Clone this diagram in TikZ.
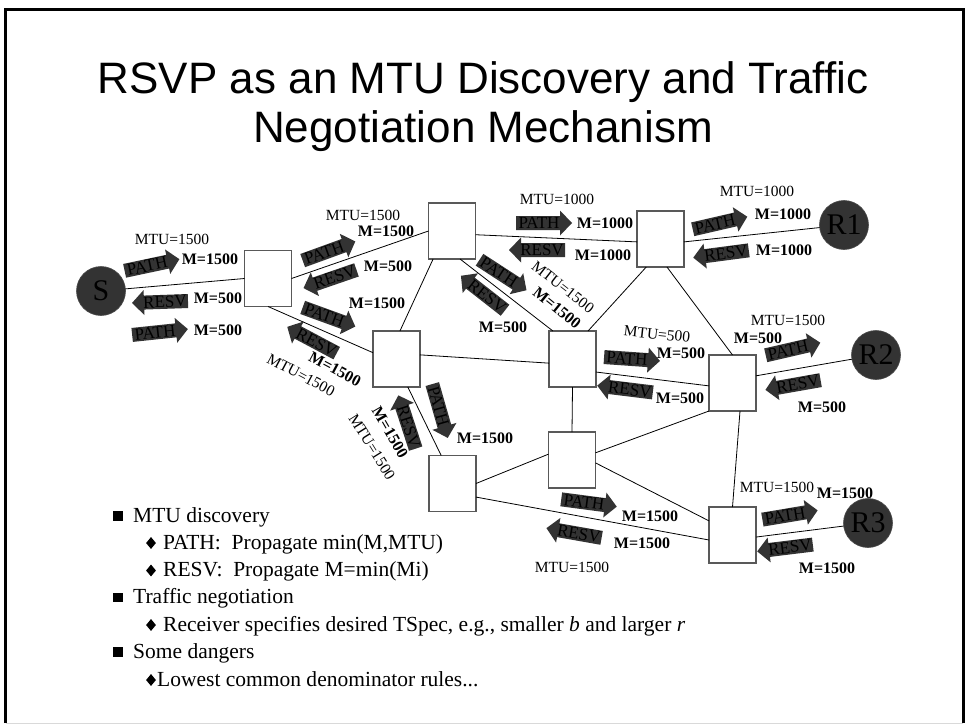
\documentclass[tikz,border=0pt]{standalone}
\usepackage{fontspec}
\usetikzlibrary{shapes.geometric}
\setmainfont{Liberation Serif}
\newfontfamily\titlefont{Liberation Sans}

% block arrow pointing along the given angle, label reading the same way
\newcommand\patharrow[4]{%
  \begin{scope}[shift={#2},rotate=#3]
    \fill[arrowfill] (-28,7) -- (16,7) -- (16,12.5) -- (28,0) -- (16,-12.5) -- (16,-7) -- (-28,-7) -- cycle;
    \node[arrowtext,transform shape] (#1) at (-5,0) {PATH};
  \end{scope}}
% block arrow pointing against the given angle, label reading along it
\newcommand\resvarrow[4]{%
  \begin{scope}[shift={#2},rotate=#3]
    \fill[arrowfill] (28,7) -- (-16,7) -- (-16,12.5) -- (-28,0) -- (-16,-12.5) -- (-16,-7) -- (28,-7) -- cycle;
    \node[arrowtext,transform shape] (#1) at (5,0) {RESV};
  \end{scope}}

\begin{document}
\begin{tikzpicture}[x=1pt,y=-1pt,
  router/.style={draw=black!65,line width=1.3pt,fill=white,minimum width=47pt,minimum height=56pt,inner sep=0pt,outer sep=0pt},
  host/.style={circle,fill=black!80,draw=black!70,line width=0.6pt,minimum size=49pt,inner sep=0pt,outer sep=0pt,font=\fontsize{30}{30}\selectfont},
  link/.style={line width=0.8pt},
  arrowfill/.style={fill=black!80},
  arrowtext/.style={font=\fontsize{17}{17}\selectfont,inner sep=0pt},
  mlab/.style={font=\fontsize{16}{16}\selectfont\bfseries,inner sep=0pt},
  mtu/.style={font=\fontsize{15.5}{16}\selectfont,inner sep=0pt},
  titletext/.style={font=\titlefont\fontsize{44}{48}\selectfont,anchor=base,inner sep=0pt},
  bullettext/.style={font=\fontsize{21.5}{26}\selectfont,anchor=base west,inner sep=0pt},
  sqbullet/.style={fill=black,minimum size=9.5pt,inner sep=0pt},
  dmbullet/.style={fill=black,diamond,minimum width=10pt,minimum height=12pt,inner sep=0pt}
]
\useasboundingbox (0,0) rectangle (965,725);
\fill[white] (0,0) rectangle (965,725);

% slide frame
\draw[line width=3pt] (5.5,723) -- (5.5,9.7) -- (963,9.7) -- (963,723);
\draw[black!15,line width=1pt] (5.5,723.5) -- (963,723.5);

% title
\node[titletext] (title1) at (483,93) {RSVP as an MTU Discovery and Traffic};
\node[titletext] (title2) at (483,142) {Negotiation Mechanism};

% routers
\node[router] (A) at (268,278.5) {};
\node[router] (B) at (452,231) {};
\node[router] (C) at (660.5,239) {};
\node[router] (D) at (396.5,359) {};
\node[router] (E) at (572.5,359) {};
\node[router] (F) at (732.5,383) {};
\node[router] (G) at (572,460) {};
\node[router] (H) at (452.5,483.5) {};
\node[router] (J) at (732.5,535) {};

% sender and receivers
\node[host] (S) at (101,291) {S};
\node[host] (R1) at (844,225) {R1};
\node[host] (R2) at (876,355) {R2};
\node[host] (R3) at (868,523) {R3};

% links
\draw[link] (S) -- (A.west);
\draw[link] (A.east) -- (B.west);
\draw[link] (A.south) -- (D.165);
\draw[link] (B.-9) -- (C.187);
\draw[link] (B.-124) -- (D.83);
\draw[link] (B.-74) -- (E.125);
\draw[link] (C.-117) -- (E.61);
\draw[link] (C.-77) -- (F.north);
\draw[link] (C.-7) -- (R1);
\draw[link] (D.10) -- (E.190);
\draw[link] (D.-68) -- (H.112);
\draw[link] (E.-29) -- (F.187);
\draw[link] (E.south) -- (G.north);
\draw[link] (G.17) -- (F.south west);
\draw[link] (G.-7) -- (J.149);
\draw[link] (H.east) -- (G.166);
\draw[link] (H.-30) -- (J.192);
\draw[link] (F.-75) -- (J.north);
\draw[link] (F.17) -- (R2);
\draw[link] (J.-5) -- (R3);

% PATH messages
\patharrow{p1}{(152,265)}{12}{}
\patharrow{p2}{(160,332)}{6}{}
\patharrow{p3}{(329,251)}{20}{}
\patharrow{p4}{(329,317)}{-20}{}
\patharrow{p5}{(503,275)}{-33}{}
\patharrow{p6}{(544,223)}{0}{}
\patharrow{p7}{(720,223)}{13}{}
\patharrow{p8}{(632,359)}{-4}{}
\patharrow{p9}{(793,349)}{13}{}
\patharrow{p10}{(589,503)}{-7.5}{}
\patharrow{p11}{(790,515)}{9.5}{}
\patharrow{p12}{(440,411)}{-74}{}

% RESV messages
\resvarrow{r1}{(160,302)}{2}{}
\resvarrow{r2}{(330,279)}{19}{}
\resvarrow{r3}{(312,340)}{-28}{}
\resvarrow{r4}{(483,293)}{-38}{}
\resvarrow{r5}{(537,250)}{0}{}
\resvarrow{r6}{(721,254)}{7.5}{}
\resvarrow{r7}{(625,389)}{-7}{}
\resvarrow{r8}{(793,385)}{10}{}
\resvarrow{r9}{(574,533)}{-10}{}
\resvarrow{r10}{(785,548)}{7}{}
\resvarrow{r11}{(407,422)}{-72}{}

% MTU and M values
\node[mtu] (t1) at (172,239) {MTU=1500};
\node[mlab] (m1) at (210,259) {M=1500};
\node[mlab] (m2) at (218,298) {M=500};
\node[mlab] (m3) at (218,330) {M=500};
\node[mtu] (t2) at (363,215) {MTU=1500};
\node[mlab] (m4) at (386,231) {M=1500};
\node[mlab] (m5) at (388,266) {M=500};
\node[mlab] (m6) at (377,303) {M=1500};
\node[mlab,rotate=-28] (m7) at (335,369) {M=1500};
\node[mtu,rotate=-28] (t3) at (301,375) {MTU=1500};
\node[mtu] (t4) at (557,199) {MTU=1000};
\node[mlab] (m8) at (605,223) {M=1000};
\node[mlab] (m9) at (603,255) {M=1000};
\node[mtu] (t5) at (757,191) {MTU=1000};
\node[mlab] (m10) at (783,214) {M=1000};
\node[mlab] (m11) at (784,250) {M=1000};
\node[mtu,rotate=-38] (t6) at (563,287) {MTU=1500};
\node[mlab,rotate=-39] (m12) at (557,308) {M=1500};
\node[mlab] (m13) at (503,327) {M=500};
\node[mtu,rotate=-6] (t7) at (657,334) {MTU=500};
\node[mlab] (m14) at (681,353) {M=500};
\node[mlab] (m15) at (680,398) {M=500};
\node[mtu] (t8) at (788,320) {MTU=1500};
\node[mlab] (m16) at (758,338) {M=500};
\node[mlab] (m17) at (822,407) {M=500};
\node[mlab] (m18) at (485,438) {M=1500};
\node[mlab,rotate=-60] (m19) at (390,432) {M=1500};
\node[mtu,rotate=-58] (t9) at (372,447) {MTU=1500};
\node[mtu] (t10) at (777,487) {MTU=1500};
\node[mlab] (m20) at (845,493) {M=1500};
\node[mlab] (m21) at (827,568) {M=1500};
\node[mlab] (m22) at (650,516) {M=1500};
\node[mlab] (m23) at (642,543) {M=1500};
\node[mtu] (t11) at (572,567) {MTU=1500};

% bullet list
\node[sqbullet] (b1) at (118,516) {};
\node[bullettext] (x1) at (133,522) {MTU discovery};
\node[dmbullet] (b2) at (151,543) {};
\node[bullettext] (x2) at (163,549) {PATH:\ \ Propagate min(M,MTU)};
\node[dmbullet] (b3) at (151,570.5) {};
\node[bullettext] (x3) at (163,576.5) {RESV:\ \ Propagate M=min(Mi)};
\node[sqbullet] (b4) at (118,597.5) {};
\node[bullettext] (x4) at (133,603.5) {Traffic negotiation};
\node[dmbullet] (b5) at (151,625) {};
\node[bullettext] (x5) at (163,631) {Receiver specifies desired TSpec, e.g., smaller \textit{b} and larger \textit{r}};
\node[sqbullet] (b6) at (118,652) {};
\node[bullettext] (x6) at (133,658) {Some dangers};
\node[dmbullet] (b7) at (151,680) {};
\node[bullettext] (x7) at (157,686) {Lowest common denominator rules...};
\end{tikzpicture}
\end{document}
